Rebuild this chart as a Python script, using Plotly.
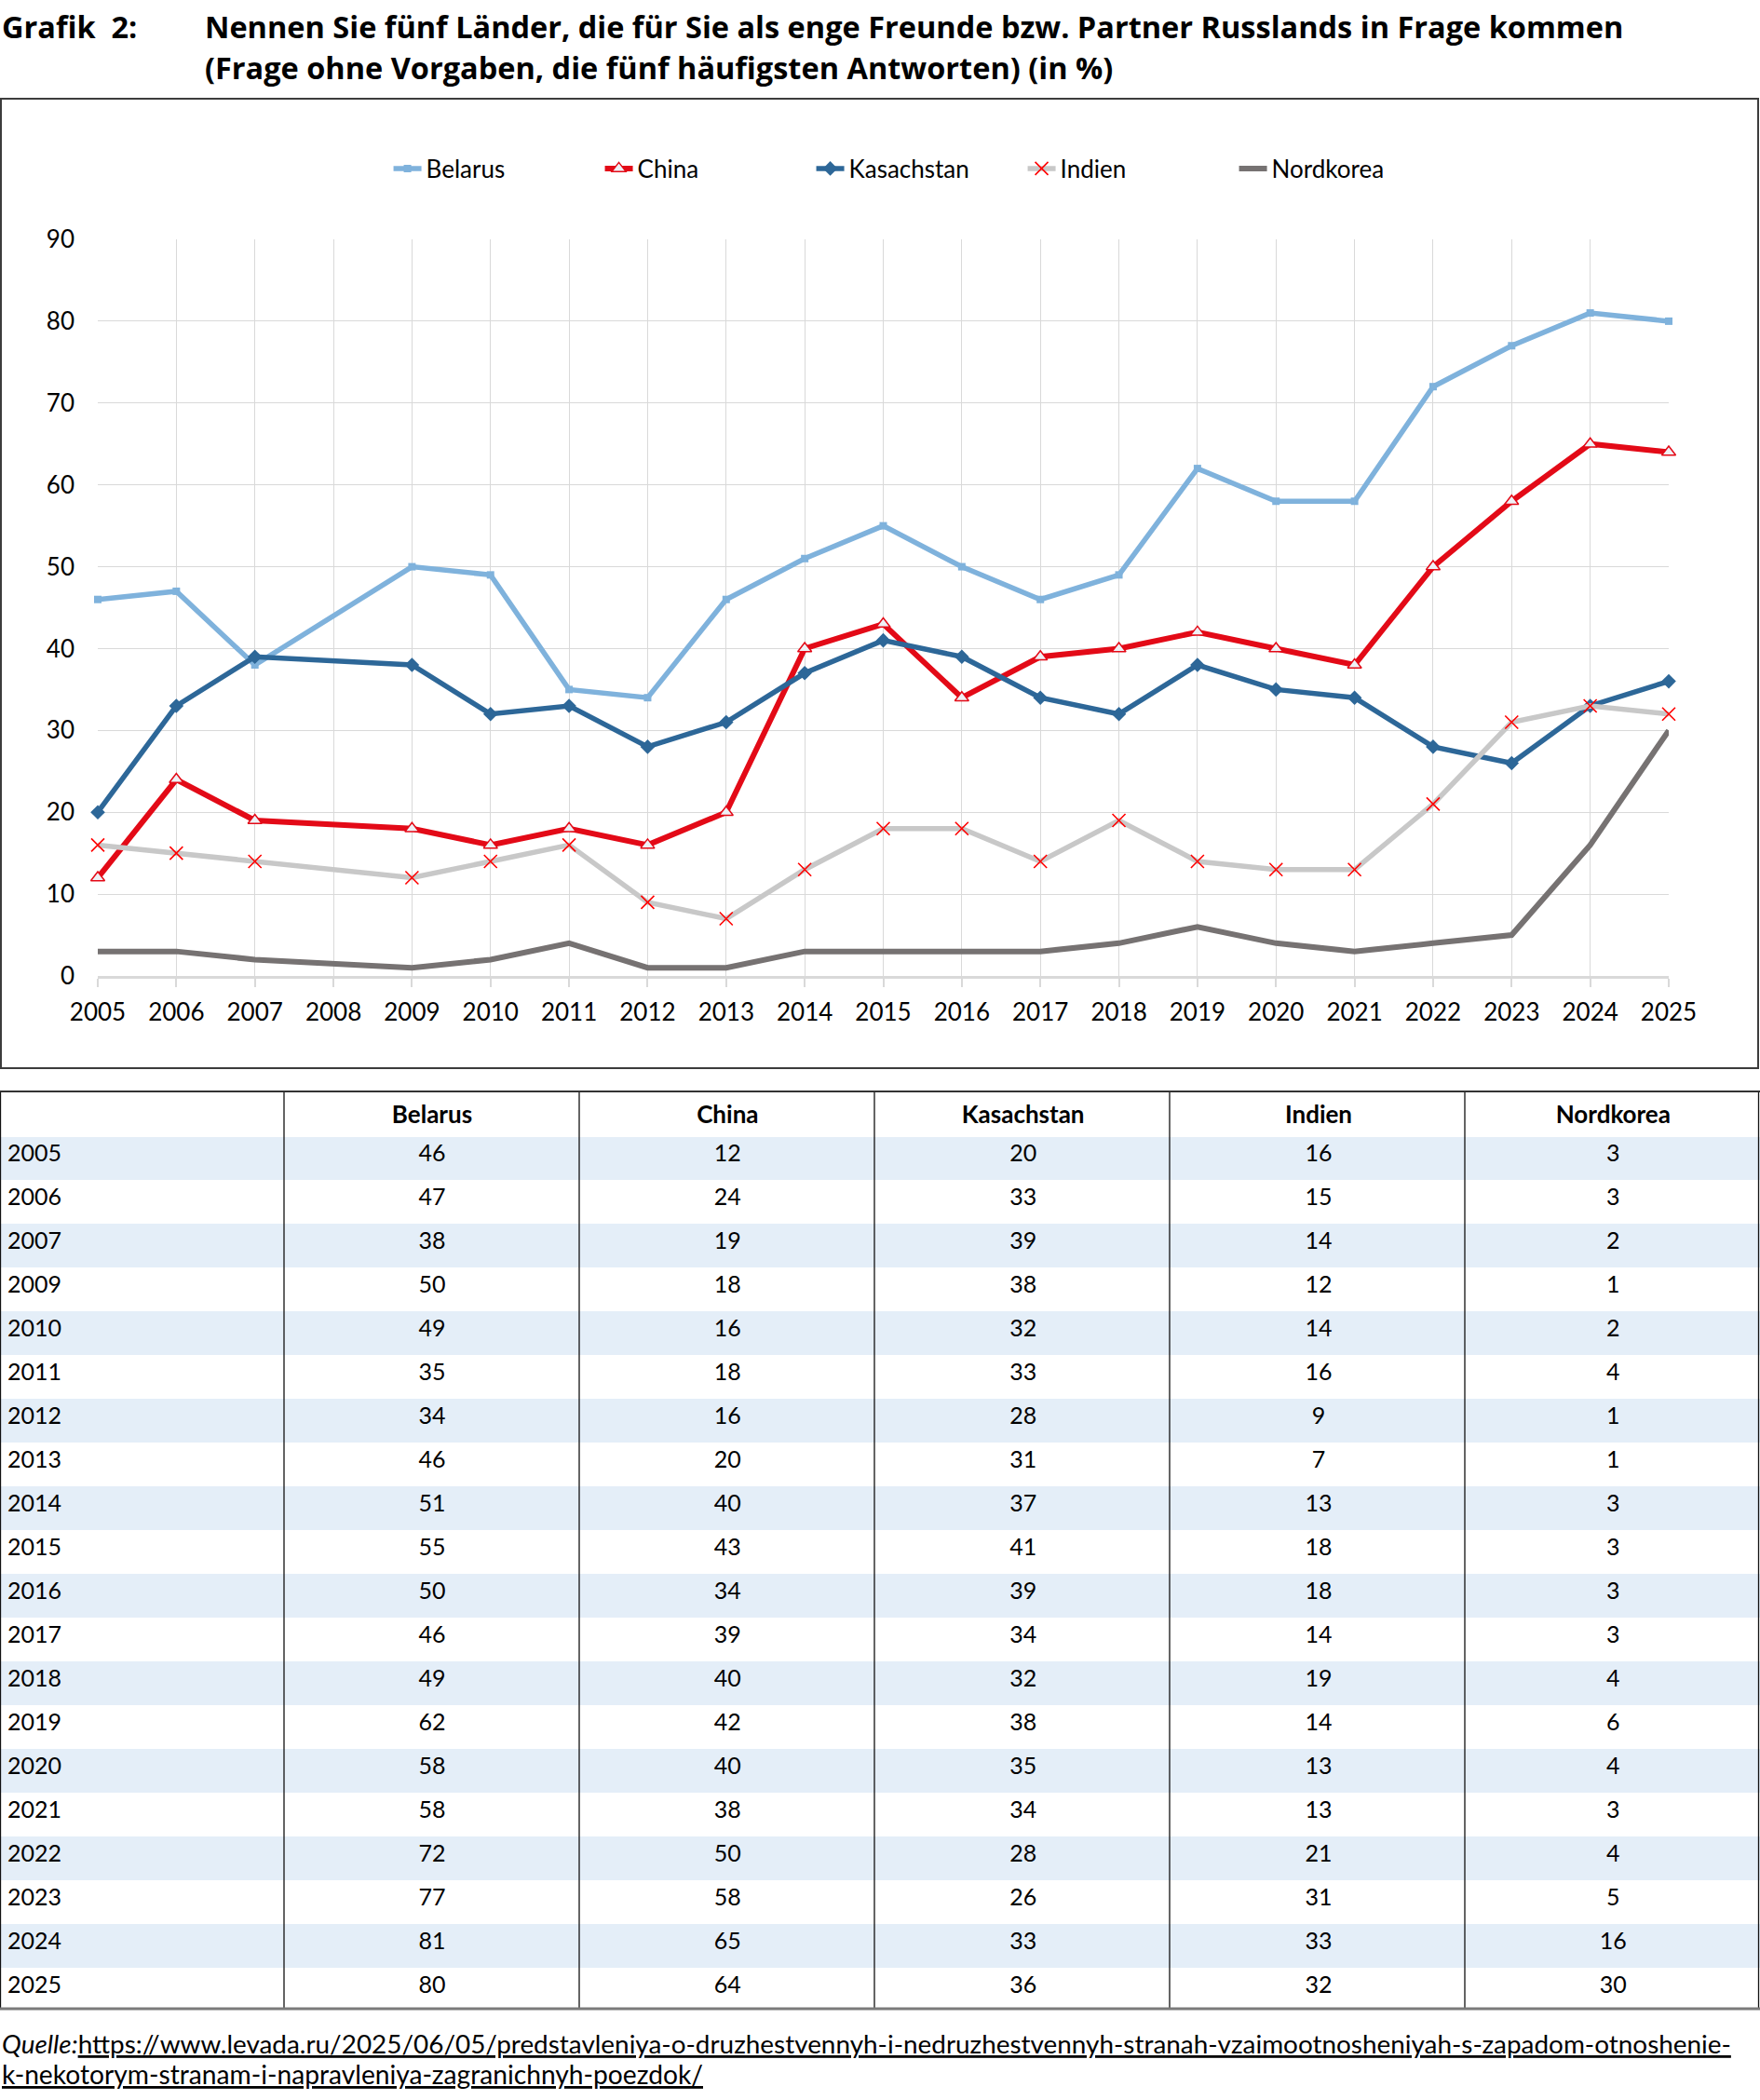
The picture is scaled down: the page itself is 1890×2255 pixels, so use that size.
import plotly.graph_objects as go

W, H = 1890, 2255

years = [2005, 2006, 2007, 2009, 2010, 2011, 2012, 2013, 2014, 2015,
         2016, 2017, 2018, 2019, 2020, 2021, 2022, 2023, 2024, 2025]
axis_years = list(range(2005, 2026))

belarus = [46, 47, 38, 50, 49, 35, 34, 46, 51, 55, 50, 46, 49, 62, 58, 58, 72, 77, 81, 80]
china = [12, 24, 19, 18, 16, 18, 16, 20, 40, 43, 34, 39, 40, 42, 40, 38, 50, 58, 65, 64]
kasachstan = [20, 33, 39, 38, 32, 33, 28, 31, 37, 41, 39, 34, 32, 38, 35, 34, 28, 26, 33, 36]
indien = [16, 15, 14, 12, 14, 16, 9, 7, 13, 18, 18, 14, 19, 14, 13, 13, 21, 31, 33, 32]
nordkorea = [3, 3, 2, 1, 2, 4, 1, 1, 3, 3, 3, 3, 4, 6, 4, 3, 4, 5, 16, 30]

series_names = ["Belarus", "China", "Kasachstan", "Indien", "Nordkorea"]
y_ticks = list(range(0, 100, 10))

title_lead = "Grafik  2:"
title_line1 = "Nennen Sie fünf Länder, die für Sie als enge Freunde bzw. Partner Russlands in Frage kommen"
title_line2 = "(Frage ohne Vorgaben, die fünf häufigsten Antworten) (in %)"
source_label = "Quelle:"
source_url1 = "https://www.levada.ru/2025/06/05/predstavleniya-o-druzhestvennyh-i-nedruzhestvennyh-stranah-vzaimootnosheniyah-s-zapadom-otnoshenie-"
source_url2 = "k-nekotorym-stranam-i-napravleniya-zagranichnyh-poezdok/"

FONT = "Lato"
TITLE_FONT = "Open Sans"


def px_x(x):
    return x / W


def px_y(y):
    return 1 - y / H


fig = go.Figure()

styles = {
    "Belarus": dict(line=dict(color="#7FB2DC", width=5.5),
                    marker=dict(symbol="square", size=8, color="#7FB2DC")),
    "China": dict(line=dict(color="#E30A17", width=6),
                  marker=dict(symbol="triangle-up", size=13, color="#EEF1F6",
                              line=dict(color="#E30A17", width=1.5))),
    "Kasachstan": dict(line=dict(color="#2D6798", width=5.5),
                       marker=dict(symbol="diamond", size=12, color="#2D6798")),
    "Indien": dict(line=dict(color="#C8C8C8", width=5.5),
                   marker=dict(symbol="x-thin-open", size=14, color="#FF0000",
                               line=dict(color="#FF0000", width=1.6))),
    "Nordkorea": dict(line=dict(color="#767272", width=6)),
}
data = {"Belarus": belarus, "China": china, "Kasachstan": kasachstan,
        "Indien": indien, "Nordkorea": nordkorea}

for name in series_names:
    st = styles[name]
    mode = "lines+markers" if "marker" in st else "lines"
    fig.add_trace(go.Scatter(x=years, y=data[name], name=name, mode=mode,
                             cliponaxis=False, **st))

# Table
row_fills = ["#E4EEF8" if i % 2 == 0 else "#FFFFFF" for i in range(len(years))]
table_cols = [[str(y) for y in years]] + [[str(v) for v in data[n]] for n in series_names]
fig.add_trace(go.Table(
    domain=dict(x=[0, 1], y=[px_y(2157), px_y(1172)]),
    columnwidth=[305, 317, 317, 317, 317, 315],
    header=dict(values=[""] + ["<b>%s</b>" % n for n in series_names],
                height=47, fill_color="#FFFFFF", line_color="#FFFFFF",
                align=["left"] + ["center"] * 5,
                font=dict(family=FONT, size=26, color="black")),
    cells=dict(values=table_cols, height=47,
               fill_color=[row_fills] * 6,
               line_color=[row_fills] * 6,
               align=["left"] + ["center"] * 5,
               font=dict(family=FONT, size=25, color="black")),
))

shapes = []
# chart box
shapes.append(dict(type="rect", xref="paper", yref="paper",
                   x0=px_x(1), x1=px_x(1888), y0=px_y(1147), y1=px_y(106),
                   line=dict(color="#3C3C3C", width=2), layer="below"))
# table lines
for xv in [0.5, 305, 622, 939, 1256, 1573, 1888.5]:
    shapes.append(dict(type="line", xref="paper", yref="paper",
                       x0=px_x(xv), x1=px_x(xv), y0=px_y(2157), y1=px_y(1172),
                       line=dict(color="#111111", width=1.3)))
shapes.append(dict(type="line", xref="paper", yref="paper",
                   x0=0, x1=px_x(1890), y0=px_y(1172), y1=px_y(1172),
                   line=dict(color="#333333", width=2)))
shapes.append(dict(type="line", xref="paper", yref="paper",
                   x0=0, x1=px_x(1890), y0=px_y(2157), y1=px_y(2157),
                   line=dict(color="#7A7A7A", width=3)))

annotations = [
    dict(text="<b>%s</b>" % title_lead, x=0, y=px_y(29), xref="paper", yref="paper",
         xanchor="left", yanchor="middle", showarrow=False,
         font=dict(family=TITLE_FONT, size=32.5, color="black")),
    dict(text="<b>%s</b>" % title_line1, x=px_x(218), y=px_y(29), xref="paper", yref="paper",
         xanchor="left", yanchor="middle", showarrow=False,
         font=dict(family=TITLE_FONT, size=32.5, color="black")),
    dict(text="<b>%s</b>" % title_line2, x=px_x(218), y=px_y(72), xref="paper", yref="paper",
         xanchor="left", yanchor="middle", showarrow=False,
         font=dict(family=TITLE_FONT, size=32.5, color="black")),
    dict(text="<i>%s</i><u>%s</u>" % (source_label, source_url1),
         x=0, y=px_y(2194), xref="paper", yref="paper",
         xanchor="left", yanchor="middle", showarrow=False,
         font=dict(family=FONT, size=27.9, color="black")),
    dict(text="<u>%s</u>" % source_url2,
         x=0, y=px_y(2227), xref="paper", yref="paper",
         xanchor="left", yanchor="middle", showarrow=False,
         font=dict(family=FONT, size=28.2, color="black")),
]

fig.update_layout(
    template="none",
    width=W, height=H, autosize=False,
    margin=dict(l=0, r=0, t=0, b=0, pad=0),
    paper_bgcolor="white", plot_bgcolor="white",
    font=dict(family=FONT, size=26, color="black"),
    showlegend=True,
    legend=dict(orientation="h", x=0.5212, xanchor="center", y=px_y(181), yanchor="middle",
                font=dict(family=FONT, size=26, color="black"),
                entrywidth=182, bgcolor="rgba(0,0,0,0)"),
    xaxis=dict(domain=[px_x(105), px_x(1792)], range=[2005, 2025], automargin=False,
               tickmode="array", tickvals=axis_years, ticktext=[str(y) for y in axis_years],
               showgrid=True, gridcolor="#D9D9D9", gridwidth=1.3,
               showline=True, linecolor="#D9D9D9", linewidth=3,
               ticks="outside", ticklen=9, tickcolor="#D9D9D9", tickwidth=1.5,
               ticklabelstandoff=5,
               tickfont=dict(family=FONT, size=26, color="black"),
               zeroline=False, fixedrange=True),
    yaxis=dict(domain=[px_y(1048), px_y(257)], range=[0, 90], automargin=False,
               tickmode="array", tickvals=y_ticks,
               showgrid=True, gridcolor="#D9D9D9", gridwidth=1.3,
               showline=False, zeroline=False, ticks="",
               ticklabelstandoff=24,
               tickfont=dict(family=FONT, size=26, color="black"), fixedrange=True),
    shapes=shapes,
    annotations=annotations,
)

fig.write_html("out.html")
